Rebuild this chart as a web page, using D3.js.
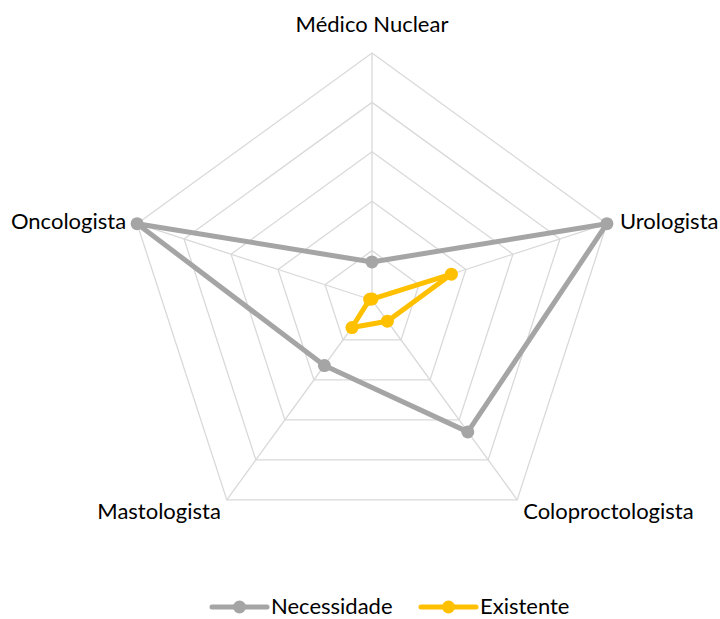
<!DOCTYPE html>
<html>
<head>
<meta charset="utf-8">
<script src="https://cdn.jsdelivr.net/npm/d3@7"></script>
<style>
  body { margin: 0; background: #fff; }
  text { font-family: Lato, "Open Sans", sans-serif; fill: #000; }
</style>
</head>
<body>
<div id="chart"></div>
<script>
// chart data
var axes = ['Médico Nuclear', 'Urologista', 'Coloproctologista', 'Mastologista', 'Oncologista'];
var necessidade = [0.77, 5, 3.3, 1.64, 5];
var existente = [0.02, 1.69, 0.53, 0.69, 0.05];
var seriesNames = ['Necessidade', 'Existente'];
var ringTicks = [1, 2, 3, 4, 5];

var width = 720, height = 619;
var cx = 372, cy = 300, radius = 247;
var colors = ['#A5A5A5', '#FFC000'];

var svg = d3.select("#chart").append("svg")
    .attr("width", width)
    .attr("height", height);

var g = svg.append("g")
    .attr("transform", "translate(" + cx + "," + cy + ")");

// scales
var r = d3.scaleLinear().domain([0, 5]).range([0, radius]);
var angle = d3.scalePoint().domain(axes).range([0, 2 * Math.PI * (axes.length - 1) / axes.length]);

function px(a, v) { return Math.sin(angle(a)) * r(v); }
function py(a, v) { return -Math.cos(angle(a)) * r(v); }

// grid rings
var ring = d3.lineRadial()
    .angle(function (d) { return angle(d); })
    .curve(d3.curveLinearClosed);

g.append("g").attr("class", "grid")
    .selectAll("path")
    .data(ringTicks)
    .join("path")
    .attr("d", function (t) { return ring.radius(r(t))(axes); })
    .attr("fill", "none")
    .attr("stroke", "#D9D9D9")
    .attr("stroke-width", 1.3);

// spokes
g.append("g").attr("class", "spokes")
    .selectAll("line")
    .data(axes)
    .join("line")
    .attr("x1", 0).attr("y1", 0)
    .attr("x2", function (a) { return px(a, 5); })
    .attr("y2", function (a) { return py(a, 5); })
    .attr("stroke", "#D9D9D9")
    .attr("stroke-width", 1.3);

// axis labels
var labelPos = {
    'Médico Nuclear': { dx: 0, dy: -21, anchor: 'middle' },
    'Urologista': { dx: 13, dy: 5, anchor: 'start' },
    'Coloproctologista': { dx: 6, dy: 19, anchor: 'start' },
    'Mastologista': { dx: -6, dy: 19, anchor: 'end' },
    'Oncologista': { dx: -11, dy: 5, anchor: 'end' }
};
g.append("g").attr("class", "labels")
    .selectAll("text")
    .data(axes)
    .join("text")
    .attr("x", function (a) { return px(a, 5) + labelPos[a].dx; })
    .attr("y", function (a) { return py(a, 5) + labelPos[a].dy; })
    .attr("text-anchor", function (a) { return labelPos[a].anchor; })
    .style("font-size", "22px")
    .text(function (a) { return a; });

// series
var series = [necessidade, existente];
var line = d3.lineRadial()
    .angle(function (d, i) { return angle(axes[i]); })
    .radius(function (d) { return r(d); })
    .curve(d3.curveLinearClosed);

series.forEach(function (vals, si) {
    var sg = g.append("g").attr("class", "series");
    sg.append("path")
        .attr("d", line(vals))
        .attr("fill", "none")
        .attr("stroke", colors[si])
        .attr("stroke-width", 5)
        .attr("stroke-linejoin", "round");
    sg.selectAll("circle")
        .data(vals)
        .join("circle")
        .attr("cx", function (d, i) { return px(axes[i], d); })
        .attr("cy", function (d, i) { return py(axes[i], d); })
        .attr("r", 6.5)
        .attr("fill", colors[si]);
});

// legend
var legendX = [212, 421];
var legend = svg.append("g").attr("class", "legend")
    .selectAll("g")
    .data(seriesNames)
    .join("g")
    .attr("transform", function (d, i) { return "translate(" + legendX[i] + ",607)"; });
legend.append("line")
    .attr("x1", 0).attr("x2", 55)
    .attr("stroke", function (d, i) { return colors[i]; })
    .attr("stroke-width", 5)
    .attr("stroke-linecap", "round");
legend.append("circle")
    .attr("cx", 27.5)
    .attr("r", 6.5)
    .attr("fill", function (d, i) { return colors[i]; });
legend.append("text")
    .attr("x", 59)
    .attr("y", 7)
    .style("font-size", "22px")
    .text(function (d) { return d; });
</script>
</body>
</html>
